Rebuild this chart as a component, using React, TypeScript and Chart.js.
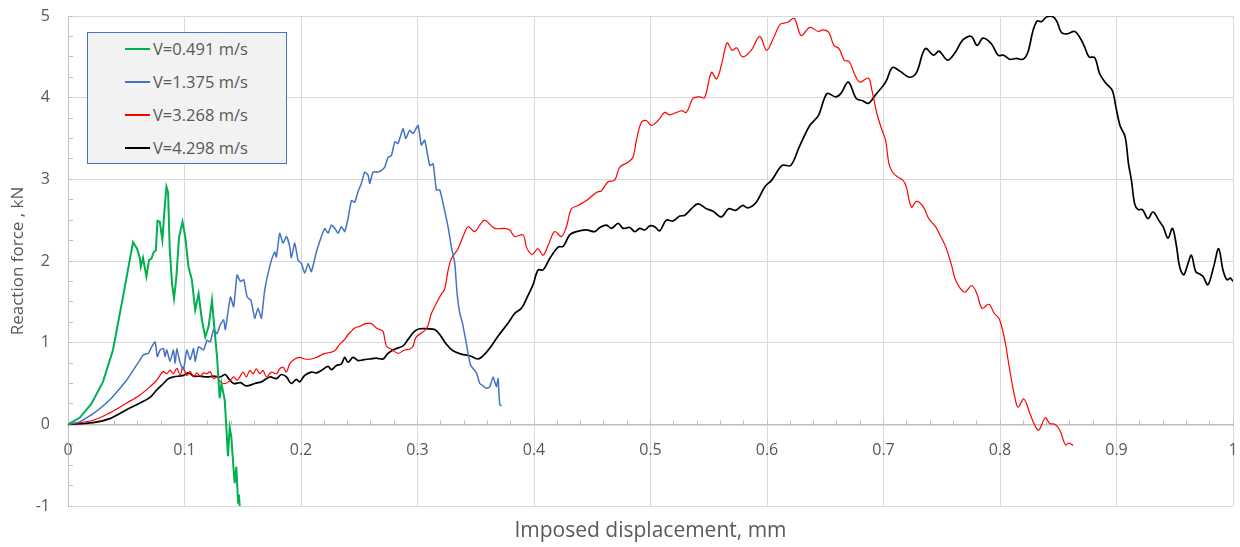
import React, { useEffect, useRef } from 'react';
import { Chart, registerables } from 'chart.js';

Chart.register(...registerables);

const FONT = '"Open Sans", "Noto Sans", sans-serif';
const TEXT = '#595959';

// ---------- data (x = imposed displacement in mm, y = reaction force in kN) ----------
const seriesLabels = ['V=0.491 m/s', 'V=1.375 m/s', 'V=3.268 m/s', 'V=4.298 m/s'];
const seriesColors = ['#00b050', '#4472c4', '#ff0000', '#000000'];

const v0491: [number, number][] = [
  [0, 0], [0.01, 0.08], [0.02, 0.25], [0.03, 0.52], [0.0386, 0.91], [0.0472, 1.56], [0.0558, 2.23],
  [0.0593, 2.15], [0.0616, 2.04], [0.0625, 1.93], [0.0644, 2.04], [0.0673, 1.81], [0.0696, 2.01],
  [0.0716, 2.03], [0.0736, 2.11], [0.0754, 2.13], [0.0768, 2.49], [0.0788, 2.48], [0.081, 2.26],
  [0.083, 2.66], [0.0845, 2.91], [0.0859, 2.84], [0.0873, 2.15], [0.0893, 1.72], [0.091, 1.54],
  [0.093, 1.8], [0.0953, 2.29], [0.0983, 2.48], [0.1006, 2.3], [0.1034, 1.93], [0.1063, 1.77],
  [0.1092, 1.4], [0.1121, 1.6], [0.1149, 1.28], [0.1178, 1.07], [0.1207, 1.2], [0.1236, 1.52],
  [0.125, 1.28], [0.1279, 0.83], [0.1302, 0.32], [0.1317, 0.5], [0.1345, 0.3], [0.1359, -0.03],
  [0.1373, -0.39], [0.1388, -0.04], [0.1402, -0.15], [0.1417, -0.47], [0.1431, -0.72], [0.1445, -0.52],
  [0.146, -0.96], [0.1467, -0.86], [0.1474, -1.0],
];

const v1375: [number, number][] = [
  [0, 0], [0.01, 0.03], [0.0216, 0.13], [0.0359, 0.3], [0.0503, 0.54], [0.0618, 0.79], [0.0647, 0.85],
  [0.069, 0.87], [0.0704, 0.91], [0.0747, 1.01], [0.0767, 0.83], [0.079, 0.91], [0.0819, 0.93],
  [0.0833, 0.83], [0.0848, 0.91], [0.0876, 0.77], [0.0905, 0.91], [0.092, 0.75], [0.0934, 0.93],
  [0.0963, 0.75], [0.0991, 0.67], [0.102, 0.91], [0.1049, 0.79], [0.1078, 0.93], [0.1092, 0.77],
  [0.1121, 0.95], [0.1164, 0.91], [0.1193, 1.03], [0.1221, 1.01], [0.125, 1.16], [0.1279, 1.11],
  [0.1307, 1.22], [0.1336, 1.28], [0.1351, 1.16], [0.1394, 1.56], [0.1422, 1.44], [0.1451, 1.83],
  [0.148, 1.75], [0.1509, 1.77], [0.1537, 1.56], [0.157, 1.52], [0.1603, 1.3], [0.1631, 1.42],
  [0.166, 1.3], [0.1689, 1.65], [0.1746, 2.01], [0.1774, 2.11], [0.1789, 2.05], [0.1817, 2.34],
  [0.1846, 2.22], [0.1875, 2.3], [0.1903, 2.18], [0.1917, 2.04], [0.1946, 2.22], [0.1975, 2.01],
  [0.2003, 1.97], [0.2032, 1.85], [0.2061, 1.97], [0.2089, 1.87], [0.2132, 2.11], [0.2175, 2.3],
  [0.2204, 2.4], [0.2232, 2.34], [0.2261, 2.44], [0.229, 2.4], [0.2318, 2.34], [0.2347, 2.42],
  [0.2375, 2.36], [0.2404, 2.52], [0.2433, 2.74], [0.2461, 2.72], [0.249, 2.85], [0.2518, 2.95],
  [0.2547, 3.09], [0.2576, 3.05], [0.259, 2.95], [0.2618, 3.09], [0.2661, 3.09], [0.269, 3.11],
  [0.2719, 3.15], [0.2747, 3.27], [0.2776, 3.29], [0.2805, 3.46], [0.2833, 3.44], [0.2876, 3.62],
  [0.2899, 3.5], [0.2933, 3.6], [0.2962, 3.56], [0.3005, 3.66], [0.3033, 3.42], [0.3062, 3.48],
  [0.3105, 3.17], [0.3134, 3.19], [0.3162, 2.87], [0.3191, 2.87], [0.322, 2.7], [0.3262, 2.42],
  [0.3291, 2.17], [0.332, 1.97], [0.334, 1.6], [0.3363, 1.36], [0.3386, 1.24], [0.3414, 1.03],
  [0.3454, 0.73], [0.3506, 0.63], [0.3534, 0.5], [0.3563, 0.47], [0.3591, 0.44], [0.362, 0.46],
  [0.3649, 0.58], [0.3677, 0.46], [0.3692, 0.56], [0.3706, 0.24], [0.3723, 0.23],
];

const v3268: [number, number][] = [
  [0, 0], [0.0216, 0.05], [0.0359, 0.14], [0.0503, 0.26], [0.0618, 0.36], [0.0704, 0.46], [0.0761, 0.54],
  [0.079, 0.6], [0.0819, 0.645], [0.0848, 0.62], [0.0876, 0.665], [0.0905, 0.62], [0.0934, 0.686],
  [0.0963, 0.6], [0.0986, 0.7], [0.102, 0.6], [0.1049, 0.645], [0.1078, 0.58], [0.1106, 0.63],
  [0.1135, 0.59], [0.1164, 0.63], [0.1193, 0.62], [0.1221, 0.645], [0.125, 0.56], [0.1279, 0.58],
  [0.1307, 0.52], [0.135, 0.5], [0.1394, 0.54], [0.1422, 0.58], [0.1451, 0.54], [0.1474, 0.58],
  [0.1503, 0.64], [0.1531, 0.58], [0.156, 0.66], [0.1588, 0.62], [0.1617, 0.68], [0.1646, 0.62],
  [0.1674, 0.66], [0.1703, 0.58], [0.1746, 0.64], [0.1789, 0.62], [0.1817, 0.68], [0.1846, 0.7],
  [0.1875, 0.64], [0.1903, 0.74], [0.1946, 0.8], [0.1989, 0.82], [0.2032, 0.8], [0.2089, 0.8],
  [0.2132, 0.82], [0.2189, 0.86], [0.2247, 0.88], [0.2289, 0.9], [0.2332, 0.98], [0.2375, 1.04],
  [0.2404, 1.1], [0.2432, 1.14], [0.2461, 1.18], [0.2504, 1.2], [0.2547, 1.23], [0.259, 1.24],
  [0.2619, 1.22], [0.2647, 1.18], [0.2676, 1.16], [0.2704, 1.14], [0.2733, 0.96], [0.2776, 0.92],
  [0.2833, 0.87], [0.289, 0.91], [0.2933, 0.92], [0.2962, 0.96], [0.299, 1.07], [0.3077, 1.17],
  [0.312, 1.36], [0.3191, 1.56], [0.3234, 1.66], [0.3263, 1.89], [0.3291, 2.03], [0.3348, 2.15],
  [0.3391, 2.3], [0.3434, 2.42], [0.3491, 2.36], [0.3534, 2.44], [0.3577, 2.5], [0.3663, 2.4],
  [0.3749, 2.4], [0.3792, 2.38], [0.3835, 2.3], [0.3906, 2.32], [0.3935, 2.17], [0.3978, 2.08],
  [0.4006, 2.11], [0.4035, 2.15], [0.4078, 2.07], [0.4121, 2.19], [0.4178, 2.36], [0.4235, 2.3],
  [0.4278, 2.42], [0.4321, 2.64], [0.4378, 2.68], [0.445, 2.74], [0.4536, 2.84], [0.4579, 2.86],
  [0.4636, 2.97], [0.4693, 2.99], [0.4736, 3.15], [0.4808, 3.21], [0.485, 3.27], [0.4879, 3.48],
  [0.4922, 3.7], [0.4965, 3.72], [0.5008, 3.66], [0.5065, 3.72], [0.5122, 3.82], [0.5165, 3.79],
  [0.5265, 3.84], [0.5308, 3.82], [0.5365, 3.99], [0.5422, 4.01], [0.5465, 4.0], [0.5523, 4.31],
  [0.5568, 4.23], [0.5612, 4.42], [0.5657, 4.67], [0.5701, 4.58], [0.574, 4.61], [0.579, 4.5],
  [0.5864, 4.58], [0.5938, 4.75], [0.5997, 4.58], [0.6056, 4.73], [0.6115, 4.9], [0.6174, 4.92],
  [0.6234, 4.97], [0.6293, 4.76], [0.6367, 4.86], [0.6441, 4.81], [0.6475, 4.83], [0.653, 4.8],
  [0.6574, 4.64], [0.6618, 4.6], [0.6663, 4.46], [0.6707, 4.44], [0.6751, 4.29], [0.6796, 4.19],
  [0.687, 4.24], [0.6899, 4.1], [0.6944, 3.8], [0.6988, 3.6], [0.7018, 3.48], [0.7047, 3.19],
  [0.7077, 3.09], [0.7121, 3.03], [0.7166, 2.99], [0.7195, 2.91], [0.724, 2.66], [0.7284, 2.73],
  [0.7343, 2.66], [0.7388, 2.52], [0.7447, 2.42], [0.7491, 2.3], [0.7535, 2.17], [0.758, 1.97],
  [0.7624, 1.75], [0.7698, 1.62], [0.7757, 1.7], [0.7802, 1.6], [0.7846, 1.42], [0.7905, 1.47],
  [0.795, 1.36], [0.7994, 1.29], [0.8041, 1.03], [0.8083, 0.67], [0.8126, 0.34], [0.8155, 0.21],
  [0.8204, 0.31], [0.8255, 0.14], [0.8298, -0.01], [0.8332, -0.07], [0.839, 0.08], [0.8427, 0.01],
  [0.847, 0.0], [0.8513, -0.07], [0.8561, -0.25], [0.8593, -0.23], [0.8627, -0.26],
];

const v4298: [number, number][] = [
  [0, 0], [0.0216, 0.02], [0.0359, 0.07], [0.0503, 0.18], [0.0618, 0.26], [0.0704, 0.33], [0.0761, 0.42],
  [0.0819, 0.5], [0.0862, 0.56], [0.0905, 0.58], [0.0991, 0.6], [0.1034, 0.63], [0.1078, 0.59],
  [0.1135, 0.59], [0.1193, 0.58], [0.125, 0.59], [0.1307, 0.58], [0.135, 0.61], [0.1379, 0.56],
  [0.1422, 0.5], [0.148, 0.51], [0.1531, 0.47], [0.1603, 0.5], [0.166, 0.52], [0.1732, 0.58],
  [0.1789, 0.56], [0.1832, 0.61], [0.1875, 0.58], [0.1917, 0.5], [0.196, 0.55], [0.1989, 0.52],
  [0.2032, 0.6], [0.2089, 0.64], [0.2132, 0.63], [0.2175, 0.66], [0.2232, 0.71], [0.2261, 0.67],
  [0.2304, 0.72], [0.2347, 0.74], [0.2375, 0.82], [0.2404, 0.76], [0.2447, 0.82], [0.249, 0.78],
  [0.2533, 0.79], [0.259, 0.8], [0.2647, 0.81], [0.2704, 0.8], [0.2747, 0.87], [0.2804, 0.92],
  [0.2876, 0.96], [0.2919, 1.04], [0.2976, 1.14], [0.3019, 1.17], [0.309, 1.17], [0.3148, 1.16],
  [0.3191, 1.1], [0.3248, 0.98], [0.3305, 0.9], [0.3377, 0.86], [0.3448, 0.84], [0.352, 0.8],
  [0.3577, 0.86], [0.3634, 0.96], [0.3691, 1.08], [0.3778, 1.24], [0.3835, 1.36], [0.3892, 1.42],
  [0.3949, 1.58], [0.3992, 1.71], [0.4035, 1.89], [0.4078, 1.89], [0.4135, 2.03], [0.4207, 2.17],
  [0.425, 2.18], [0.4307, 2.32], [0.4364, 2.36], [0.445, 2.38], [0.4521, 2.36], [0.4565, 2.41],
  [0.4622, 2.44], [0.4665, 2.4], [0.4722, 2.46], [0.4765, 2.4], [0.4822, 2.41], [0.4865, 2.36],
  [0.4908, 2.4], [0.4951, 2.38], [0.4994, 2.43], [0.5036, 2.42], [0.5079, 2.37], [0.5136, 2.5],
  [0.5194, 2.49], [0.5251, 2.55], [0.5294, 2.56], [0.5351, 2.64], [0.5408, 2.7], [0.548, 2.64],
  [0.5537, 2.61], [0.5608, 2.54], [0.5671, 2.64], [0.5731, 2.62], [0.579, 2.68], [0.5834, 2.65],
  [0.5908, 2.72], [0.5982, 2.91], [0.6041, 2.99], [0.613, 3.17], [0.6204, 3.17], [0.6278, 3.4],
  [0.6367, 3.66], [0.6441, 3.78], [0.6515, 4.05], [0.6589, 4.01], [0.6633, 4.05], [0.6698, 4.19],
  [0.6766, 3.99], [0.6825, 3.96], [0.687, 3.93], [0.6929, 4.03], [0.7018, 4.19], [0.7077, 4.37],
  [0.7136, 4.33], [0.7225, 4.25], [0.7284, 4.31], [0.7358, 4.6], [0.7432, 4.52], [0.7476, 4.57],
  [0.755, 4.46], [0.7609, 4.54], [0.7683, 4.71], [0.7754, 4.75], [0.7803, 4.64], [0.7854, 4.73],
  [0.7926, 4.66], [0.7983, 4.52], [0.8031, 4.52], [0.8083, 4.47], [0.814, 4.48], [0.8197, 4.47],
  [0.824, 4.56], [0.8283, 4.82], [0.832, 4.94], [0.8355, 4.93], [0.8403, 4.99], [0.8455, 4.99],
  [0.8489, 4.93], [0.8526, 4.8], [0.8569, 4.78], [0.8641, 4.81], [0.8684, 4.74], [0.8727, 4.62],
  [0.8764, 4.5], [0.8813, 4.49], [0.8856, 4.29], [0.8913, 4.17], [0.8964, 4.09], [0.8993, 3.9],
  [0.903, 3.66], [0.9074, 3.52], [0.9103, 3.19], [0.9128, 2.99], [0.9156, 2.7], [0.9185, 2.63],
  [0.9222, 2.63], [0.927, 2.52], [0.9313, 2.6], [0.9371, 2.48], [0.94, 2.42], [0.9442, 2.28],
  [0.948, 2.4], [0.9514, 2.19], [0.9542, 1.93], [0.9577, 1.83], [0.9614, 1.97], [0.9643, 2.07],
  [0.968, 1.87], [0.9714, 1.84], [0.9743, 1.81], [0.9785, 1.71], [0.9834, 1.93], [0.9877, 2.15],
  [0.9914, 1.89], [0.9948, 1.77], [0.9977, 1.79], [1.0, 1.75],
];

const seriesData = [v0491, v1375, v3268, v4298];

// axis settings
const xMin = 0, xMax = 1, xMajor = 0.1, xMinor = 0.02;
const yMin = -1, yMax = 5, yMajor = 1, yMinor = 0.25;
const xTitle = 'Imposed displacement, mm';
const yTitle = 'Reaction force , kN';

const isMultiple = (v: number, step: number) => {
  const r = v / step;
  return Math.abs(r - Math.round(r)) < 1e-6;
};

const lineWidths = [2, 1.5, 1.2, 1.7];
const tensions = [0, 0.15, 0.35, 0.35];

export default function App() {
  const canvasRef = useRef<HTMLCanvasElement | null>(null);

  useEffect(() => {
    const canvas = canvasRef.current;
    if (!canvas) return;
    const chart = new Chart(canvas, {
      type: 'line',
      data: {
        datasets: seriesData.map((s, i) => ({
          label: seriesLabels[i],
          data: s.map(([x, y]) => ({ x, y })),
          borderColor: seriesColors[i],
          backgroundColor: seriesColors[i],
          borderWidth: lineWidths[i],
          tension: tensions[i],
          pointRadius: 0,
          fill: false,
          xAxisID: 'x',
          yAxisID: 'y',
        })),
      },
      options: {
        animation: false,
        responsive: false,
        events: [],
        layout: { padding: { left: 0, top: 16, right: 7, bottom: 0 } },
        plugins: { legend: { display: false }, tooltip: { enabled: false }, title: { display: false } },
        scales: {
          x: {
            type: 'linear',
            min: xMin,
            max: xMax,
            position: { y: 0 },
            ticks: {
              stepSize: xMinor,
              autoSkip: false,
              maxRotation: 0,
              padding: 22,
              color: TEXT,
              font: { family: FONT, size: 16 },
              callback: (v: any) => (isMultiple(Number(v), xMajor) ? String(Number(Number(v).toFixed(1))) : ''),
            },
            grid: {
              color: (ctx: any) => (ctx.tick && isMultiple(ctx.tick.value, xMajor) ? '#d9d9d9' : 'rgba(0,0,0,0)'),
              tickColor: '#bfbfbf',
              tickLength: -5,
              lineWidth: 1,
            },
            border: { color: '#bfbfbf', width: 1.5 },
            afterFit: (s: any) => {
              s.paddingLeft = 0;
              s.paddingRight = 0;
              s.paddingTop = 0;
              s.paddingBottom = 0;
            },
          },
          xt: {
            type: 'linear',
            min: xMin,
            max: xMax,
            position: 'bottom',
            ticks: { display: false },
            grid: { display: false, drawTicks: false },
            border: { display: false },
            title: {
              display: true,
              text: xTitle,
              color: TEXT,
              font: { family: FONT, size: 21 },
              padding: { top: 0, bottom: 3 },
            },
            afterFit: (s: any) => {
              s.height = 41;
              s.paddingLeft = 0;
              s.paddingRight = 0;
            },
          },
          y: {
            type: 'linear',
            min: yMin,
            max: yMax,
            position: 'left',
            ticks: {
              stepSize: yMinor,
              autoSkip: false,
              padding: 23,
              color: TEXT,
              font: { family: FONT, size: 16 },
              callback: (v: any) => (isMultiple(Number(v), yMajor) ? String(Math.round(Number(v))) : ''),
            },
            grid: {
              color: (ctx: any) => (ctx.tick && isMultiple(ctx.tick.value, yMajor) ? '#d9d9d9' : 'rgba(0,0,0,0)'),
              tickColor: '#bfbfbf',
              tickLength: -5,
              lineWidth: 1,
            },
            border: { color: '#bfbfbf', width: 1 },
            title: {
              display: true,
              text: yTitle,
              color: TEXT,
              font: { family: FONT, size: 17 },
              padding: { top: 8, bottom: 0 },
            },
            afterFit: (s: any) => {
              s.width = 68;
              s.paddingTop = 0;
              s.paddingBottom = 0;
            },
          },
        },
      } as any,
    });
    return () => chart.destroy();
  }, []);

  return (
    <div style={{ position: 'fixed', left: 0, top: 0, width: 1240, height: 547, background: '#ffffff' }}>
      <canvas ref={canvasRef} width={1240} height={547} style={{ display: 'block' }} />
      <div
        style={{
          position: 'absolute',
          left: 87,
          top: 32,
          width: 200,
          height: 132,
          boxSizing: 'border-box',
          background: '#f2f2f2',
          border: '1px solid #4472c4',
          fontFamily: FONT,
          fontSize: 16.5,
          color: TEXT,
        }}
      >
        {seriesLabels.map((label, i) => (
          <div key={label} style={{ position: 'absolute', left: 0, top: 16 + i * 32.9 - 11, height: 22, width: 198 }}>
            <span
              style={{
                position: 'absolute',
                left: 37,
                top: 10,
                width: 25,
                height: 2,
                background: seriesColors[i],
              }}
            />
            <span style={{ position: 'absolute', left: 65, top: 0, lineHeight: '22px', whiteSpace: 'nowrap' }}>{label}</span>
          </div>
        ))}
      </div>
    </div>
  );
}
